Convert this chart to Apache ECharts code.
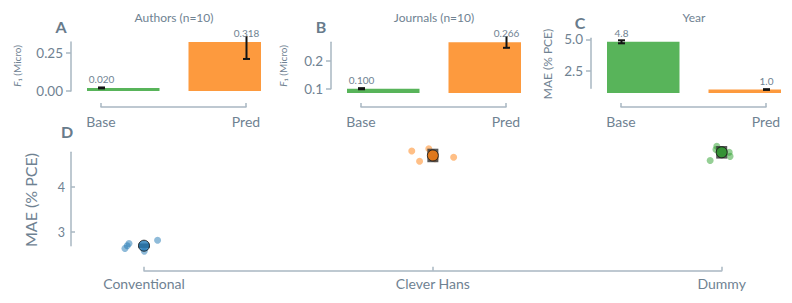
<!DOCTYPE html>
<html><head><meta charset="utf-8">
<script src="https://cdn.jsdelivr.net/npm/echarts@6/dist/echarts.min.js"></script>
<style>html,body{margin:0;padding:0;background:#fff}#c{width:792px;height:303px}</style>
</head><body><div id="c"></div>
<script>
// ---------- data ----------
const barCategories = ['Base', 'Pred'];

const authorsF1 = [0.020, 0.318];
const authorsErrLow = [0.017, 0.208];
const authorsErrHigh = [0.023, 0.428];
const authorsLabels = ['0.020', '0.318'];
const authorsTicks = [0, 0.25];
const authorsTickLabels = ['0.00', '0.25'];

const journalsF1 = [0.100, 0.266];
const journalsErrLow = [0.098, 0.246];
const journalsErrHigh = [0.102, 0.290];
const journalsLabels = ['0.100', '0.266'];
const journalsTicks = [0.1, 0.2];
const journalsTickLabels = ['0.1', '0.2'];

const yearMAE = [4.8, 1.0];
const yearErrLow = [4.68, 0.97];
const yearErrHigh = [4.92, 1.03];
const yearLabels = ['4.8', '1.0'];
const yearTicks = [2.5, 5.0];
const yearTickLabels = ['2.5', '5.0'];

const modelCategories = ['Conventional', 'Clever Hans', 'Dummy'];
const conventionalMAE = [2.64, 2.70, 2.75, 2.58, 2.82];
const conventionalJitter = [-0.066, -0.058, -0.052, 0.001, 0.047];
const cleverHansMAE = [4.80, 4.85, 4.57, 4.63, 4.66];
const cleverHansJitter = [-0.073, -0.014, -0.046, 0.008, 0.072];
const dummyMAE = [4.905, 4.83, 4.77, 4.68, 4.59];
const dummyJitter = [-0.017, -0.020, 0.026, 0.029, -0.040];
const modelMeanMAE = [2.70, 4.70, 4.77];
const modelCiLow = [2.65, 4.55, 4.63];
const modelCiHigh = [2.75, 4.85, 4.91];
const modelTicks = [3, 4];
const modelTickLabels = ['3', '4'];

// ---------- styles ----------
const FONT = 'Lato, "Open Sans", sans-serif';
const TXT = '#6f8292';
const AXC = '#a9b7c2';
const AXW = 1.5;
const barColors = ['#58b45a', '#fd9a3e'];
const dotColors = ['#1f77b4', '#ff7f0e', '#2ca02c'];

const topPanels = [
  {dx: 0, vals: authorsF1, lo: authorsErrLow, hi: authorsErrHigh, labels: authorsLabels,
   ticks: authorsTicks, tickLabels: authorsTickLabels, v0: 0, y0: 91, k: 154,
   plotBottom: 92, spineTop: 42, spineBottom: 91, title: 'Authors (n=10)', letter: 'A', letterY: 26,
   yname: '{i|F}₁ (Micro)', ynameX: 17, ynameY: 66, ynameSize: 10},
  {dx: 260, vals: journalsF1, lo: journalsErrLow, hi: journalsErrHigh, labels: journalsLabels,
   ticks: journalsTicks, tickLabels: journalsTickLabels, v0: 0.1, y0: 88.7, k: 280,
   plotBottom: 93, spineTop: 42.2, spineBottom: 88.7, title: 'Journals (n=10)', letter: 'B', letterY: 26,
   yname: '{i|F}₁ (Micro)', ynameX: 283, ynameY: 66, ynameSize: 10},
  {dx: 520, vals: yearMAE, lo: yearErrLow, hi: yearErrHigh, labels: yearLabels,
   ticks: yearTicks, tickLabels: yearTickLabels, v0: 5, y0: 39.3, k: 12.56,
   plotBottom: 93, spineTop: 38.3, spineBottom: 88.3, title: 'Year', letter: 'C', letterY: 22,
   yname: 'MAE (% PCE)', ynameX: 547, ynameY: 64, ynameSize: 12}
];
const PLOT_TOP = 36;
const X_LINE_Y = 107;

function labelFor(ticks, labels) {
  return v => { for (let i = 0; i < ticks.length; i++) if (Math.abs(ticks[i] - v) < 1e-6) return labels[i]; return ''; };
}

const grid = [], xAxis = [], yAxis = [], series = [], graphic = [];

topPanels.forEach((p, i) => {
  const px = pix => p.v0 + (p.y0 - pix) / p.k;
  grid.push({left: 87 + p.dx, top: PLOT_TOP, width: 174, height: p.plotBottom - PLOT_TOP});
  xAxis.push({gridIndex: 2 * i, type: 'value', min: -0.1, max: 1.1, show: false});
  yAxis.push({gridIndex: 2 * i, type: 'value', min: px(p.plotBottom), max: px(PLOT_TOP), show: false});
  grid.push({left: 101 + p.dx, top: p.spineTop, width: 145, height: p.spineBottom - p.spineTop});
  xAxis.push({gridIndex: 2 * i + 1, type: 'category', data: barCategories, boundaryGap: false,
    position: 'bottom', offset: X_LINE_Y - p.spineBottom,
    axisLine: {show: true, onZero: false, lineStyle: {color: AXC, width: AXW}},
    axisTick: {show: true, inside: true, length: 4, lineStyle: {color: AXC, width: AXW}},
    axisLabel: {color: TXT, fontFamily: FONT, fontSize: 14, margin: 7, interval: 0},
    splitLine: {show: false}});
  yAxis.push({gridIndex: 2 * i + 1, type: 'value', min: px(p.spineBottom), max: px(p.spineTop),
    offset: 30, position: 'left',
    axisLine: {show: true, onZero: false, lineStyle: {color: AXC, width: AXW}},
    axisTick: {show: true, length: 5, customValues: p.ticks, lineStyle: {color: AXC, width: AXW}},
    axisLabel: {color: TXT, fontFamily: FONT, fontSize: 13.5, margin: 8, customValues: p.ticks,
      formatter: labelFor(p.ticks, p.tickLabels)},
    splitLine: {show: false}});

  const data = barCategories.map((c, j) => [j, p.vals[j], p.lo[j], p.hi[j]]);
  series.push({type: 'custom', xAxisIndex: 2 * i, yAxisIndex: 2 * i, data, z: 2,
    renderItem: (params, api) => {
      const j = api.value(0), v = api.value(1);
      const shift = j === 0 ? 0.15 : -0.15;
      const a = api.coord([j + shift - 0.25, v]);
      const b = api.coord([j + shift + 0.25, 0]);
      const r = echarts.graphic.clipRectByRect({x: a[0], y: a[1], width: b[0] - a[0], height: b[1] - a[1]}, params.coordSys);
      if (!r) return null;
      return {type: 'rect', shape: r, style: {fill: barColors[j]}};
    }});
  series.push({type: 'custom', xAxisIndex: 2 * i, yAxisIndex: 2 * i, data, z: 3,
    renderItem: (params, api) => {
      const j = api.value(0);
      const lo = api.coord([j, api.value(2)]), hi = api.coord([j, api.value(3)]);
      const cs = params.coordSys;
      const top = Math.max(hi[1], cs.y);
      const st = {stroke: '#141414', lineWidth: 2};
      const ch = [
        {type: 'line', shape: {x1: lo[0], y1: lo[1], x2: lo[0], y2: top}, style: st},
        {type: 'line', shape: {x1: lo[0] - 3.5, y1: lo[1], x2: lo[0] + 3.5, y2: lo[1]}, style: st}
      ];
      if (hi[1] >= cs.y) ch.push({type: 'line', shape: {x1: hi[0] - 3.5, y1: hi[1], x2: hi[0] + 3.5, y2: hi[1]}, style: st});
      return {type: 'group', children: ch};
    }});
  series.push({type: 'custom', xAxisIndex: 2 * i, yAxisIndex: 2 * i, data, z: 4,
    renderItem: (params, api) => {
      const j = api.value(0);
      const pt = api.coord([j, api.value(1)]);
      return {type: 'text', x: pt[0], y: pt[1] - 9,
        style: {text: p.labels[j], fill: TXT, font: '10px ' + FONT, align: 'center', verticalAlign: 'middle'}};
    }});

  graphic.push({type: 'text', x: 174 + p.dx, y: 17,
    style: {text: p.title, fill: TXT, font: '12px ' + FONT, align: 'center', verticalAlign: 'middle'}});
  graphic.push({type: 'text', x: 61 + p.dx - (i === 2 ? 1 : 0), y: p.letterY,
    style: {text: p.letter, fill: '#687b8b', font: 'bold 16px ' + FONT, align: 'center', verticalAlign: 'middle'}});
  graphic.push({type: 'text', x: p.ynameX, y: p.ynameY, rotation: Math.PI / 2,
    style: {text: p.yname, fill: TXT, fontFamily: FONT, fontSize: p.ynameSize, align: 'center', verticalAlign: 'middle',
      rich: {i: {fontStyle: 'italic', fontFamily: FONT, fontSize: p.ynameSize, fill: TXT}}}});
});

// ---------- panel D: axis grid (index 6) + plot grid (index 7) ----------
const dMin = Math.min(...modelMeanMAE), dMax = Math.max(...modelMeanMAE);
grid.push({left: 144, top: 152.3, width: 577.7, height: 93.4});
xAxis.push({gridIndex: 6, type: 'category', data: modelCategories, boundaryGap: false, position: 'bottom', offset: 25,
  axisLine: {show: true, onZero: false, lineStyle: {color: AXC, width: AXW}},
  axisTick: {show: true, inside: true, length: 4, lineStyle: {color: AXC, width: AXW}},
  axisLabel: {color: TXT, fontFamily: FONT, fontSize: 14, margin: 6, interval: 0},
  splitLine: {show: false}});
yAxis.push({gridIndex: 6, type: 'value', min: dMin, max: dMax, offset: 73, position: 'left',
  axisLine: {show: true, onZero: false, lineStyle: {color: AXC, width: AXW}},
  axisTick: {show: true, inside: true, length: 4, customValues: modelTicks, lineStyle: {color: AXC, width: AXW}},
  axisLabel: {color: TXT, fontFamily: FONT, fontSize: 12.5, margin: 6, customValues: modelTicks,
    formatter: labelFor(modelTicks, modelTickLabels)},
  splitLine: {show: false}});
grid.push({left: 144, top: 152.3, width: 577.7, height: 93.4});
xAxis.push({gridIndex: 7, type: 'value', min: 0, max: 2, show: false});
yAxis.push({gridIndex: 7, type: 'value', min: dMin, max: dMax, show: false});
const DP = 7;

const groups = [[conventionalMAE, conventionalJitter], [cleverHansMAE, cleverHansJitter], [dummyMAE, dummyJitter]];
groups.forEach((g, m) => {
  series.push({type: 'scatter', xAxisIndex: DP, yAxisIndex: DP, clip: false, z: 2,
    symbolSize: 7, data: g[0].map((v, k) => [m + g[1][k], v]),
    itemStyle: {color: dotColors[m], opacity: 0.5}, emphasis: {disabled: true}});
});
series.push({type: 'custom', xAxisIndex: DP, yAxisIndex: DP, z: 3,
  data: modelMeanMAE.map((v, m) => [m, modelCiLow[m], modelCiHigh[m]]),
  renderItem: (params, api) => {
    const lo = api.coord([api.value(0), api.value(1)]), hi = api.coord([api.value(0), api.value(2)]);
    return {type: 'rect', shape: {x: lo[0] - 5.5, y: hi[1], width: 11, height: lo[1] - hi[1]},
      style: {fill: '#3c3c3c', opacity: 0.85}};
  }});
series.push({type: 'scatter', xAxisIndex: DP, yAxisIndex: DP, clip: false, z: 4, symbolSize: 11,
  data: modelMeanMAE.map((v, m) => ({value: [m, v], itemStyle: {color: dotColors[m]}})),
  itemStyle: {borderColor: '#111', borderWidth: 1}, emphasis: {disabled: true}});

graphic.push({type: 'text', x: 67, y: 131,
  style: {text: 'D', fill: '#687b8b', font: 'bold 16px ' + FONT, align: 'center', verticalAlign: 'middle'}});
graphic.push({type: 'text', x: 30.5, y: 200, rotation: Math.PI / 2,
  style: {text: 'MAE (% PCE)', fill: TXT, font: '16px ' + FONT, align: 'center', verticalAlign: 'middle'}});

const chart = echarts.init(document.getElementById('c'), null, {renderer: 'svg'});
chart.setOption({animation: false, backgroundColor: '#fff', grid, xAxis, yAxis, series, graphic});
</script></body></html>
